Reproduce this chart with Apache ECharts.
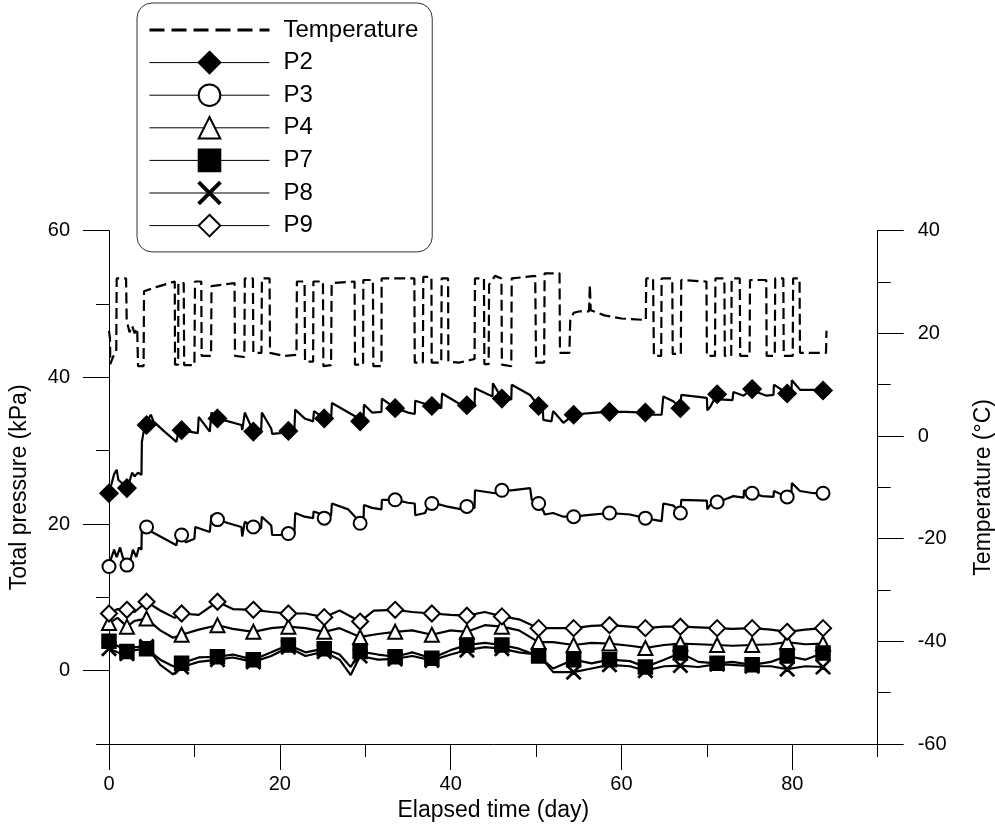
<!DOCTYPE html>
<html><head><meta charset="utf-8">
<script src="https://cdn.jsdelivr.net/npm/echarts/dist/echarts.min.js"></script>
<style>html,body{margin:0;padding:0;background:#fff}#c{width:995px;height:837px}</style>
</head><body><div id="c"></div>
<script>
// ---- data (day, value) ----
const MARK_DAYS = [0, 2.1, 4.4, 8.5, 12.7, 16.9, 21.0, 25.2, 29.4, 33.5, 37.8, 41.9, 46.0, 50.3, 54.4, 58.6, 62.8, 66.9, 71.2, 75.3, 79.4, 83.6];
const X_TICKS = [0, 20, 40, 60, 80];
const YL_TICKS = [0, 20, 40, 60];
const YR_TICKS = [-60, -40, -20, 0, 20, 40];

const TEMP = [[0.0,20.5],[0.12,19],[0.15,14],[0.5,15.5],[0.85,16.5],[0.9,30.7],[2.0,30.7],[2.07,22.6],[2.4,20.2],[2.7,21.5],[3.0,20.0],[3.3,21.0],[3.4,13.6],[4.05,13.6],[4.1,28.2],[5.5,29.0],[7.7,30.1],[7.73,13.9],[8.1,13.9],[8.12,29.8],[8.75,29.8],[8.8,13.8],[10.0,13.8],[10.07,30.1],[10.8,30.1],[10.85,15.6],[11.95,15.6],[12.0,29.2],[14.7,29.8],[14.75,15.6],[15.85,15.4],[15.9,30.7],[16.85,30.7],[16.9,16.2],[17.85,16.2],[17.9,30.7],[18.8,30.7],[18.85,16.2],[20.5,15.6],[21.95,15.8],[22.0,30.1],[22.9,30.1],[22.95,14.5],[23.9,14.5],[23.93,30.1],[25.05,30.1],[25.1,13.6],[26.0,13.8],[26.07,29.8],[28.75,30.1],[28.8,13.9],[29.75,13.9],[29.78,30.4],[30.9,30.4],[30.95,13.6],[31.9,13.6],[31.92,30.7],[35.75,30.7],[35.8,14.3],[36.75,14.3],[36.8,31.0],[37.75,31.0],[37.78,14.3],[38.9,14.3],[38.95,30.7],[39.7,30.7],[39.73,14.5],[41.0,14.3],[42.8,15.0],[42.85,30.7],[43.9,30.7],[43.95,14.0],[44.45,14.0],[44.5,29.5],[45.2,31.2],[45.95,30.7],[46.0,13.9],[47.1,13.6],[47.15,30.7],[49.9,31.2],[50.0,14.3],[50.95,14.3],[51.0,31.7],[52.75,31.7],[52.8,16.2],[53.9,16.2],[54.0,22.5],[54.4,24.0],[55.1,24.3],[56.2,24.3],[56.3,29.5],[56.4,24.5],[58.0,23.5],[60.0,22.9],[62.85,22.6],[62.9,30.7],[63.7,30.7],[63.8,15.6],[64.65,15.6],[64.7,30.7],[65.95,30.7],[66.0,16.0],[66.95,16.0],[67.0,30.4],[69.95,30.1],[70.0,15.6],[70.95,15.6],[71.0,30.7],[72.05,30.7],[72.1,15.6],[72.85,15.6],[72.9,30.7],[73.85,30.7],[73.9,15.6],[75.0,15.6],[75.05,30.4],[76.95,30.4],[77.0,15.6],[77.95,15.6],[78.0,30.7],[78.95,30.7],[79.0,15.6],[80.05,15.6],[80.1,30.7],[80.85,30.7],[80.9,16.2],[83.95,16.2],[84.0,20.5]];

const P2_MARKS = [24.2, 24.9, 33.5, 32.8, 34.4, 32.6, 32.7, 34.4, 34.0, 35.8, 36.1, 36.2, 37.1, 36.1, 34.9, 35.3, 35.2, 35.8, 37.7, 38.4, 37.8, 38.2];
const P2_LINE = [[0.3,25.5],[0.6,26.8],[0.9,27.4],[1.1,26.0],[1.3,26.2],[1.6,25.5],[2.4,25.8],[2.7,27.0],[3.0,26.5],[3.4,27.0],[3.8,26.7],[3.85,31.2],[4.2,33.5],[4.9,34.9],[5.2,34.0],[6.5,32.6],[7.9,31.2],[8.1,31.0],[8.15,32.9],[10.4,32.4],[10.5,34.6],[11.8,32.6],[12.0,35.2],[15.5,33.5],[15.6,32.8],[15.9,35.2],[17.8,32.4],[17.9,35.2],[19.0,33.0],[19.1,32.3],[20.0,32.4],[21.7,32.7],[21.8,35.6],[22.9,34.4],[23.9,34.0],[24.0,35.4],[26.0,34.3],[26.1,36.5],[28.8,34.7],[29.8,34.3],[29.85,36.3],[30.8,35.2],[31.9,35.3],[31.95,37.1],[35.0,35.2],[35.8,35.0],[35.85,36.8],[38.9,35.8],[39.0,37.8],[41.3,36.2],[42.8,36.0],[42.85,38.5],[44.9,37.4],[44.95,39.2],[47.1,37.0],[47.15,39.0],[49.3,37.6],[50.8,35.5],[50.85,34.2],[51.8,34.0],[52.0,35.4],[53.2,33.8],[55.1,35.0],[57.0,35.2],[60.5,35.3],[63.7,34.9],[64.7,34.9],[64.9,37.4],[66.1,36.7],[67.0,37.6],[70.0,37.2],[70.05,35.5],[70.4,36.0],[71.5,37.0],[73.0,36.9],[73.1,38.0],[74.3,37.5],[75.8,38.0],[77.0,37.5],[77.8,37.6],[77.85,39.0],[79.9,37.9],[79.95,39.6],[80.9,38.3],[82.5,38.3]];

const P3_MARKS = [14.2, 14.4, 19.6, 18.5, 20.6, 19.6, 18.7, 20.8, 20.1, 23.3, 22.8, 22.4, 24.6, 22.8, 21.0, 21.5, 20.8, 21.5, 23.0, 24.2, 23.7, 24.2];
const P3_LINE = [[0.3,15.5],[0.6,16.5],[0.9,15.5],[1.3,16.8],[1.6,15.5],[2.5,15.0],[2.8,16.5],[3.2,15.5],[3.5,16.8],[3.8,16.5],[3.85,20.1],[4.1,18.7],[4.8,19.0],[5.2,18.8],[6.5,18.0],[7.9,17.1],[8.1,17.0],[8.15,19.3],[9.0,17.5],[10.0,18.0],[10.1,19.6],[11.8,18.9],[12.0,21.2],[14.0,20.1],[15.5,19.6],[15.6,18.3],[15.9,20.3],[17.8,19.4],[17.9,21.0],[19.0,19.8],[19.1,18.5],[20.0,18.5],[21.7,18.7],[21.8,21.5],[22.9,21.0],[23.9,20.8],[23.95,21.7],[24.5,21.5],[26.0,21.2],[26.1,22.8],[28.0,22.0],[28.8,21.0],[29.8,20.5],[29.85,22.6],[30.8,22.2],[31.9,22.0],[31.95,23.3],[35.0,22.9],[35.8,22.8],[35.85,21.2],[37.0,21.5],[37.5,22.8],[38.9,22.6],[39.5,22.4],[41.3,22.0],[42.8,22.2],[42.85,24.6],[45.2,24.2],[47.1,24.6],[49.3,24.9],[49.5,23.3],[50.9,21.7],[51.0,21.3],[52.0,21.5],[53.2,21.0],[56.0,21.2],[61.0,21.3],[63.7,20.6],[64.7,20.4],[64.9,22.8],[66.1,22.5],[67.0,23.3],[70.0,23.2],[70.05,22.0],[70.4,22.6],[72.0,23.3],[73.1,23.8],[74.3,23.6],[74.35,24.6],[76.5,23.8],[77.8,23.7],[77.85,24.5],[79.9,24.2],[79.95,25.6],[80.9,24.5],[82.5,24.2]];

const P4_MARKS = [6.5, 6.0, 7.1, 4.9, 6.2, 5.3, 6.0, 5.3, 4.6, 5.3, 4.9, 5.3, 6.0, 3.9, 3.5, 3.7, 3.1, 3.7, 3.5, 3.5, 3.9, 3.7];
const P4_LINE = [[1,7.2],[3,6.8],[6,5.5],[7.5,4.5],[10.5,5.6],[14.5,5.7],[19,5.8],[23,5.8],[27,5.8],[31.5,5.0],[35.5,5.5],[40,5.5],[44,6.2],[48,5.5],[52,3.9],[56.5,3.8],[61,3.4],[65,3.5],[69,3.6],[73,3.4],[77.5,3.6],[81.5,3.6]];

const P7_MARKS = [4.0, 2.6, 3.0, 1.0, 1.9, 1.5, 3.5, 3.0, 2.6, 1.9, 1.7, 3.5, 3.5, 2.0, 1.5, 1.5, 0.5, 2.4, 1.0, 0.8, 2.0, 2.4];
const P7_LINE = [[1,3.4],[3,2.8],[6,1.5],[7.5,0.6],[10.5,1.8],[14.5,2.2],[19,2.5],[23,2.5],[27,2.2],[28.3,0.5],[31.5,2.2],[35.5,2.5],[40,2.8],[44,3.8],[48,3.0],[52,0.3],[56.5,1.0],[61,1.3],[65,1.5],[69,1.2],[73,1.2],[77.5,1.2],[81.5,1.5]];

const P8_MARKS = [3.0, 2.3, 3.3, 0.5, 1.5, 1.2, 3.2, 2.6, 2.0, 1.6, 1.4, 2.8, 3.0, 2.2, -0.2, 0.8, 0.0, 0.7, 0.9, 0.6, 0.2, 0.5];
const P8_LINE = [[1,2.5],[3,3.2],[6,0.8],[7.5,-0.5],[10.5,1.2],[14.5,1.8],[19,2.0],[23,2.0],[27,1.5],[28.3,-0.6],[31.5,1.5],[35.5,2.0],[40,2.2],[44,3.2],[48,2.5],[52,-0.2],[56.5,0.3],[61,0.6],[65,0.6],[69,0.5],[73,0.8],[77.5,0.6],[81.5,0.6]];

const P9_MARKS = [7.8, 8.3, 9.4, 7.8, 9.4, 8.3, 7.8, 7.3, 6.7, 8.3, 7.8, 7.5, 7.4, 5.8, 5.8, 6.2, 5.8, 6.0, 5.8, 5.8, 5.3, 5.8];
const P9_LINE = [[1,8.4],[3,8.0],[6,8.2],[7.7,7.2],[10.5,7.6],[14.5,8.4],[19,8.0],[23,7.8],[27,8.2],[31,8.2],[35.5,8.0],[40,7.6],[44,8.0],[48,7.0],[52,5.8],[56.5,6.1],[61,6.0],[65,6.0],[69,5.9],[73,5.7],[77.5,5.6],[81.5,5.6]];

// ---- chart ----
const FONT = '"Liberation Sans", Arial, Helvetica, sans-serif';
const X_SHAPE = 'path://M0,6L6,0L50,44L94,0L100,6L56,50L100,94L94,100L50,56L6,100L0,94L44,50Z';

function build(line, marks) {
  const pts = line.map(p => ({ value: [p[0], p[1]], symbol: 'none' }));
  MARK_DAYS.forEach((d, i) => pts.push({ value: [d, marks[i]] }));
  pts.sort((a, b) => a.value[0] - b.value[0]);
  return pts;
}
function sensor(name, line, marks, symbol, size) {
  return {
    name: name, type: 'line', xAxisIndex: 0, yAxisIndex: 0,
    data: build(line, marks), symbol: symbol, symbolSize: size, showAllSymbol: true,
    lineStyle: { color: '#000', width: 2.2 },
    itemStyle: { color: '#000', borderColor: '#000', borderWidth: 1.5 },
    emphasis: { disabled: true }, z: 3
  };
}
const lbl = { color: '#000', fontSize: 20, fontFamily: FONT };
const nameStyle = { color: '#000', fontSize: 23, fontFamily: FONT };

function minorAxis(extra) {
  return Object.assign({
    type: 'value', gridIndex: 0, interval: 10,
    axisLine: { show: true, onZero: false, lineStyle: { color: '#000', width: 1 } },
    axisTick: { show: true, length: 13, lineStyle: { color: '#000' } },
    axisLabel: { show: false }, splitLine: { show: false }
  }, extra);
}
function majorAxis(ticks, margin, extra) {
  return Object.assign({
    type: 'value', gridIndex: 0, interval: 10,
    axisLine: { show: false, onZero: false },
    axisTick: { show: true, length: 26, customValues: ticks, lineStyle: { color: '#000' } },
    axisLabel: Object.assign({ show: true, customValues: ticks, margin: margin }, lbl),
    splitLine: { show: false }, nameLocation: 'middle', nameTextStyle: nameStyle
  }, extra);
}

const chart = echarts.init(document.getElementById('c'), null, { renderer: 'canvas' });
chart.setOption({
  animation: false,
  backgroundColor: '#fff',
  textStyle: { fontFamily: FONT },
  grid: { left: 109, right: 117.3, top: 230.7, bottom: 93, containLabel: false, outerBoundsMode: 'none' },
  xAxis: [
    minorAxis({ position: 'bottom', min: 0, max: 90 }),
    majorAxis(X_TICKS, 30, { position: 'bottom', min: 0, max: 90, name: 'Elapsed time (day)', nameGap: 52 })
  ],
  yAxis: [
    minorAxis({ position: 'left', min: -10, max: 60 }),
    majorAxis(YL_TICKS, 39, { position: 'left', min: -10, max: 60, name: 'Total pressure (kPa)', nameGap: 78 }),
    minorAxis({ position: 'right', min: -60, max: 40 }),
    majorAxis(YR_TICKS, 40, { position: 'right', min: -60, max: 40, name: 'Temperature (\u00B0C)', nameGap: 94 })
  ],
  legend: {
    left: 137, top: 3, orient: 'vertical', itemWidth: 120, itemHeight: 27, itemGap: 8.6,
    padding: [15, 14, 14.3, 11], borderColor: '#333', borderWidth: 1, borderRadius: 15,
    backgroundColor: '#fff', selectedMode: false,
    textStyle: { fontSize: 24, color: '#000', fontFamily: FONT, padding: [0, 0, 0, 9] },
    data: [
      { name: 'Temperature', itemStyle: { opacity: 0 }, lineStyle: { width: 3, type: [15, 7] } },
      { name: 'P2', lineStyle: { width: 1 } },
      { name: 'P3', lineStyle: { width: 1 } },
      { name: 'P4', lineStyle: { width: 1 } },
      { name: 'P7', lineStyle: { width: 1 } },
      { name: 'P8', lineStyle: { width: 1 } },
      { name: 'P9', lineStyle: { width: 1 } }
    ]
  },
  series: [
    { name: 'Temperature', type: 'line', xAxisIndex: 0, yAxisIndex: 2, data: TEMP, symbol: 'none',
      lineStyle: { color: '#000', width: 2.2, type: [11, 5] }, itemStyle: { color: '#000' }, emphasis: { disabled: true }, z: 2 },
    sensor('P2', P2_LINE, P2_MARKS, 'diamond', 18),
    sensor('P3', P3_LINE, P3_MARKS, 'emptyCircle', 13),
    sensor('P4', P4_LINE, P4_MARKS, 'emptyTriangle', 14),
    sensor('P7', P7_LINE, P7_MARKS, 'rect', 14),
    sensor('P8', P8_LINE, P8_MARKS, X_SHAPE, 14),
    sensor('P9', P9_LINE, P9_MARKS, 'emptyDiamond', 16)
  ]
});
</script>
</body></html>
